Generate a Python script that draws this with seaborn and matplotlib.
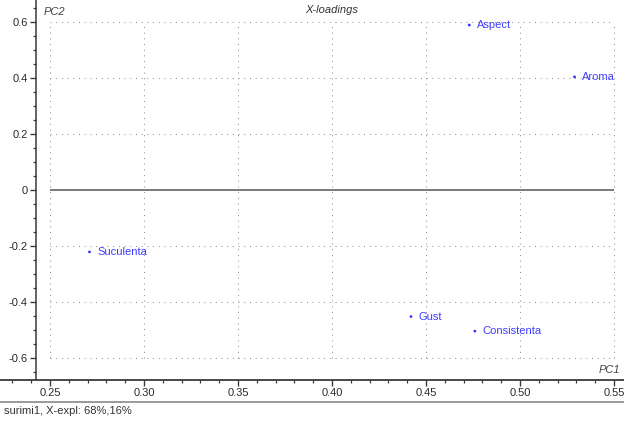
import matplotlib
matplotlib.use("Agg")
import matplotlib.pyplot as plt
from matplotlib.ticker import MultipleLocator, FixedLocator
import seaborn as sns
import pandas as pd

# Loadings on the first two principal components
variables = ["Aspect", "Aroma", "Suculenta", "Gust", "Consistenta"]
pc1 = [0.473, 0.529, 0.271, 0.442, 0.476]
pc2 = [0.589, 0.404, -0.221, -0.452, -0.504]

x_ticks = [0.25, 0.30, 0.35, 0.40, 0.45, 0.50, 0.55]
x_tick_labels = ["0.25", "0.30", "0.35", "0.40", "0.45", "0.50", "0.55"]
y_ticks = [-0.6, -0.4, -0.2, 0.0, 0.2, 0.4, 0.6]
y_tick_labels = ["-0.6", "-0.4", "-0.2", "0", "0.2", "0.4", "0.6"]

df = pd.DataFrame({"variable": variables, "PC1": pc1, "PC2": pc2})

sns.set_style("white")
plt.rcParams["font.family"] = ["Liberation Sans", "DejaVu Sans"]

W, H = 624, 421
fig = plt.figure(figsize=(W / 100, H / 100), dpi=100)
ax = fig.add_axes([0, (H - 380) / H, 1, 380 / H])

px_per_x = 1880.0   # pixels per PC1 unit
px_per_y = 280.0    # pixels per PC2 unit
x0 = 0.25 - 50 / px_per_x
x1 = 0.25 + (W - 50) / px_per_x
ax.set_xlim(x0, x1)
ax.set_ylim(-190 / px_per_y, 190 / px_per_y)

axis_col = "#3a3a3a"
grid_col = "#8c8c8c"

# dotted grid restricted to the tick box
dot = (0, (1.0, 4.7))
ax.hlines([y for y in y_ticks if y != 0], x_ticks[0], x_ticks[-1],
          colors=grid_col, linestyles=dot, linewidth=0.72, zorder=1)
ax.vlines(x_ticks, y_ticks[0], y_ticks[-1],
          colors=grid_col, linestyles=dot, linewidth=0.72, zorder=1)
# zero line
ax.hlines(0, x_ticks[0], x_ticks[-1], colors="#7a7a7a", linewidth=1.4, zorder=2)

sns.scatterplot(data=df, x="PC1", y="PC2", ax=ax, color="#3333ff",
                s=4, edgecolor="none", legend=False, zorder=3)
for name, xv, yv in zip(variables, pc1, pc2):
    ax.annotate(name, (xv, yv), xytext=(5.5, 0), textcoords="offset points",
                ha="left", va="center", fontsize=8, color="#3d3dff")

# spines
for s in ["top", "right"]:
    ax.spines[s].set_visible(False)
ax.spines["left"].set_position(("data", 0.25 - 14 / px_per_x))
ax.spines["left"].set_color(axis_col)
ax.spines["left"].set_linewidth(1.1)
ax.spines["bottom"].set_color(axis_col)
ax.spines["bottom"].set_linewidth(1.3)

ax.xaxis.set_major_locator(FixedLocator(x_ticks))
ax.set_xticklabels(x_tick_labels)
ax.xaxis.set_minor_locator(MultipleLocator(0.01))
ax.yaxis.set_major_locator(FixedLocator(y_ticks))
ax.set_yticklabels(y_tick_labels)
ax.yaxis.set_minor_locator(MultipleLocator(0.05))

ax.tick_params(axis="both", which="major", direction="out", length=4,
               width=1, color=axis_col, labelsize=8, labelcolor="#2a2a2a", pad=2)
ax.tick_params(axis="both", which="minor", direction="out", length=2.2,
               width=0.9, color=axis_col)
ax.tick_params(axis="x", which="both", bottom=True)
ax.tick_params(axis="y", which="both", left=True)
ax.set_xlabel("")
ax.set_ylabel("")

# axis names and title
fig.text(44 / W, 1 - 12 / H, "PC2", fontsize=8, style="italic",
         color="#444444", ha="left", va="center")
fig.text(332 / W, 1 - 10 / H, "X-loadings", fontsize=8, style="italic",
         color="#333333", ha="center", va="center")
fig.text(620 / W, 1 - 370 / H, "PC1", fontsize=8, style="italic",
         color="#444444", ha="right", va="center")

# status bar
fig.add_artist(plt.Line2D([0, 1], [1 - 401.5 / H, 1 - 401.5 / H],
                          transform=fig.transFigure, color="#9a9a9a", linewidth=1.4))
fig.text(4 / W, 1 - 411 / H, "surimi1, X-expl: 68%,16%", fontsize=8,
         color="#333333", ha="left", va="center")

fig.savefig("out.png", dpi=100)
